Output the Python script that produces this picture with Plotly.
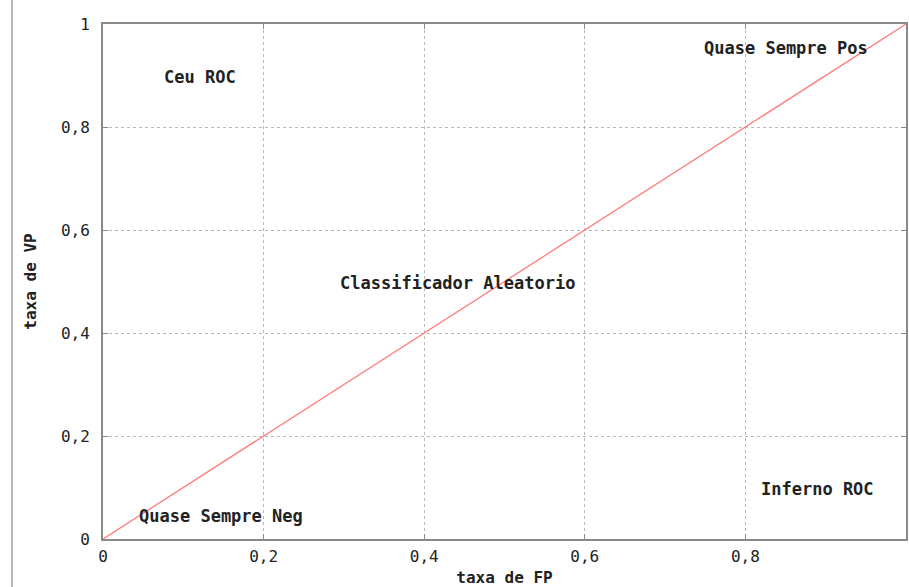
import plotly.graph_objects as go

# Data
fp_rate = [0, 1]
vp_rate = [0, 1]
tick_vals = [0, 0.2, 0.4, 0.6, 0.8, 1]
tick_text = ["0", "0,2", "0,4", "0,6", "0,8", "1"]
label_text = ["Ceu ROC", "Quase Sempre Pos", "Classificador Aleatorio",
              "Quase Sempre Neg", "Inferno ROC"]
label_x = [0.121, 0.85, 0.442, 0.147, 0.89]
label_y = [0.897, 0.953, 0.497, 0.045, 0.097]

FONT = "DejaVu Sans Mono"
fnt = dict(family=FONT, size=16, color="#222222")

fig = go.Figure()
fig.add_trace(go.Scatter(x=fp_rate, y=vp_rate, mode="lines",
                         line=dict(color="#ff7a7a", width=1.3),
                         showlegend=False, hoverinfo="skip", cliponaxis=False))

for t, x, y in zip(label_text, label_x, label_y):
    fig.add_annotation(x=x, y=y, text="<b>" + t + "</b>", showarrow=False,
                       xanchor="center", yanchor="middle",
                       font=dict(family=FONT, size=17, color="#222222"))

axis_common = dict(
    range=[0, 1], tickmode="array", tickvals=tick_vals, ticktext=tick_text,
    showgrid=True, gridcolor="#b8b8b8", griddash="dot", gridwidth=1,
    showline=True, linecolor="#8a8a8a", linewidth=2, mirror="ticks",
    ticks="inside", ticklen=5, tickcolor="#8a8a8a", zeroline=False,
    tickfont=dict(family=FONT, size=16, color="#222222"),
    fixedrange=True,
)

fig.update_xaxes(**axis_common,
                 title=dict(text="<b>taxa de FP</b>", font=fnt, standoff=10),
                 ticklabelstandoff=2)
fig.update_yaxes(**axis_common,
                 title=dict(text="<b>taxa de VP</b>", font=fnt, standoff=20),
                 ticklabelstandoff=8)

# page border line on the left
fig.add_shape(type="line", xref="paper", yref="paper",
              x0=-0.1133, x1=-0.1133, y0=-0.2, y1=1.1,
              line=dict(color="#b5b5b5", width=2))

fig.update_layout(
    width=909, height=587,
    margin=dict(l=103, r=3, t=24, b=48, autoexpand=False),
    paper_bgcolor="white", plot_bgcolor="white",
    font=fnt,
)

fig.write_html(
    "out.html", config={"displayModeBar": False},
    post_script="document.body.style.margin='0';document.body.style.overflow='hidden';",
)
